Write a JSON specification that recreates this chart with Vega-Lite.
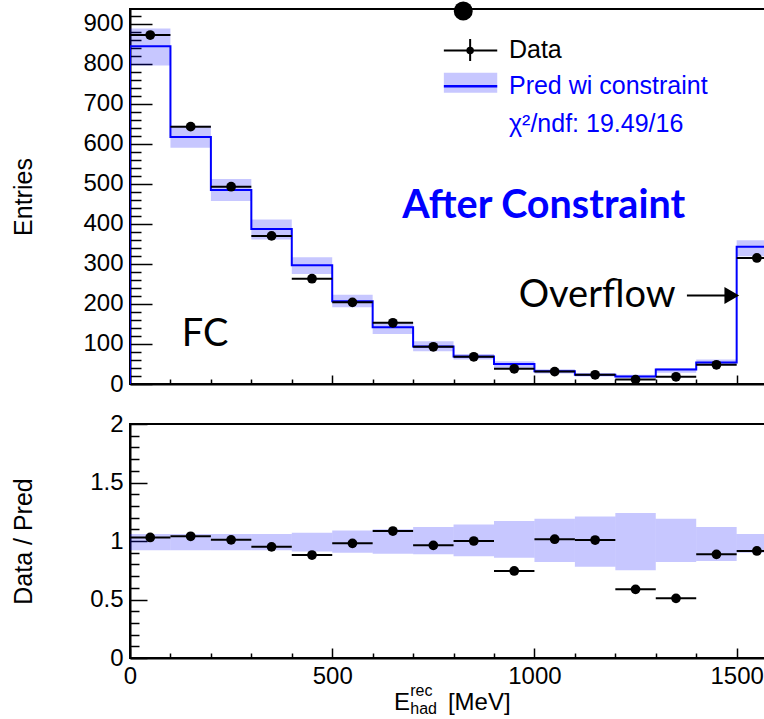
{
  "$schema": "https://vega.github.io/schema/vega-lite/v6.json",
  "padding": {"left": 10, "top": 0, "right": 0, "bottom": 0},
  "background": "white",
  "spacing": 40,
  "bounds": "flush",
  "config": {
    "view": {"stroke": "black", "strokeWidth": 2},
    "font": "Liberation Sans",
    "axis": {
      "domainColor": "black", "domainWidth": 2, "tickColor": "black", "tickWidth": 1.5,
      "labelColor": "black", "titleColor": "black", "labelFont": "Liberation Sans", "titleFont": "Liberation Sans",
      "labelFontSize": 24, "titleFontSize": 25, "titleFontWeight": "normal", "grid": false, "labelOverlap": false, "labelFlush": false, "tickCount": 200
    }
  },
  "datasets": {
    "bins": [
      {"lo": 0, "mid": 50, "hi": 100, "data": 872, "pred": 844, "blo": 796, "bhi": 888, "ratio": 1.03, "rlo": 0.92, "rhi": 1.06},
      {"lo": 100, "mid": 150, "hi": 200, "data": 643, "pred": 617, "blo": 590, "bhi": 645, "ratio": 1.04, "rlo": 0.92, "rhi": 1.06},
      {"lo": 200, "mid": 250, "hi": 300, "data": 493, "pred": 485, "blo": 457, "bhi": 512, "ratio": 1.01, "rlo": 0.92, "rhi": 1.06},
      {"lo": 300, "mid": 350, "hi": 400, "data": 370, "pred": 387, "blo": 361, "bhi": 411, "ratio": 0.95, "rlo": 0.92, "rhi": 1.06},
      {"lo": 400, "mid": 450, "hi": 500, "data": 263, "pred": 297, "blo": 275, "bhi": 317, "ratio": 0.88, "rlo": 0.91, "rhi": 1.07},
      {"lo": 500, "mid": 550, "hi": 600, "data": 204, "pred": 207, "blo": 192, "bhi": 223, "ratio": 0.98, "rlo": 0.9, "rhi": 1.09},
      {"lo": 600, "mid": 650, "hi": 700, "data": 153, "pred": 142, "blo": 125, "bhi": 153, "ratio": 1.085, "rlo": 0.89, "rhi": 1.1},
      {"lo": 700, "mid": 750, "hi": 800, "data": 93, "pred": 94, "blo": 82, "bhi": 107, "ratio": 0.963, "rlo": 0.886, "rhi": 1.12},
      {"lo": 800, "mid": 850, "hi": 900, "data": 68, "pred": 69, "blo": 61, "bhi": 75, "ratio": 1.0, "rlo": 0.87, "rhi": 1.14},
      {"lo": 900, "mid": 950, "hi": 1000, "data": 38, "pred": 50, "blo": 40, "bhi": 57, "ratio": 0.744, "rlo": 0.857, "rhi": 1.17},
      {"lo": 1000, "mid": 1050, "hi": 1100, "data": 31, "pred": 32, "blo": 26, "bhi": 37, "ratio": 1.015, "rlo": 0.82, "rhi": 1.19},
      {"lo": 1100, "mid": 1150, "hi": 1200, "data": 23, "pred": 23, "blo": 19, "bhi": 26, "ratio": 1.008, "rlo": 0.78, "rhi": 1.21},
      {"lo": 1200, "mid": 1250, "hi": 1300, "data": 11, "pred": 19, "blo": 15, "bhi": 23, "ratio": 0.587, "rlo": 0.75, "rhi": 1.24},
      {"lo": 1300, "mid": 1350, "hi": 1400, "data": 18, "pred": 36, "blo": 28, "bhi": 40, "ratio": 0.51, "rlo": 0.82, "rhi": 1.19},
      {"lo": 1400, "mid": 1450, "hi": 1500, "data": 48, "pred": 54, "blo": 47, "bhi": 61, "ratio": 0.886, "rlo": 0.83, "rhi": 1.12},
      {"lo": 1500, "mid": 1550, "hi": 1600, "data": 315, "pred": 343, "blo": 319, "bhi": 359, "ratio": 0.915, "rlo": 0.9, "rhi": 1.06}
    ],
    "step": [
      {"i": 0, "x": 0, "y": 0}, {"i": 1, "x": 0, "y": 844}, {"i": 2, "x": 100, "y": 617}, {"i": 3, "x": 200, "y": 485},
      {"i": 4, "x": 300, "y": 387}, {"i": 5, "x": 400, "y": 297}, {"i": 6, "x": 500, "y": 207}, {"i": 7, "x": 600, "y": 142},
      {"i": 8, "x": 700, "y": 94}, {"i": 9, "x": 800, "y": 69}, {"i": 10, "x": 900, "y": 50}, {"i": 11, "x": 1000, "y": 32},
      {"i": 12, "x": 1100, "y": 23}, {"i": 13, "x": 1200, "y": 19}, {"i": 14, "x": 1300, "y": 36}, {"i": 15, "x": 1400, "y": 54},
      {"i": 16, "x": 1500, "y": 343}, {"i": 17, "x": 1600, "y": 343}
    ],
    "blueText": [
      {"x": 937, "y": 723.5, "t": "Pred wi constraint"},
      {"x": 937, "y": 630, "t": "χ²/ndf: 19.49/16"}
    ],
    "blackText": [
      {"x": 937, "y": 813.5, "t": "Data"}
    ],
    "xtitleBig": [
      {"x": 653, "y": -0.444, "t": "E"},
      {"x": 786, "y": -0.444, "t": "[MeV]"}
    ],
    "xtitleSmall": [
      {"x": 693, "y": -0.325, "t": "rec"},
      {"x": 693, "y": -0.481, "t": "had"}
    ]
  },
  "vconcat": [
    {
      "width": 637,
      "height": 375,
      "layer": [
        {
          "data": {"name": "bins"},
          "mark": {"type": "rect", "fill": "#0000ff", "fillOpacity": 0.22, "clip": true},
          "encoding": {
            "x": {"field": "lo", "type": "quantitative", "scale": {"domain": [0, 1575], "nice": false, "zero": false},
              "axis": {"values": [0,100,200,300,400,500,600,700,800,900,1000,1100,1200,1300,1400,1500], "labels": false, "title": null,
                "tickSize": {"condition": {"test": "datum.value % 500 === 0", "value": -9}, "value": -5}}},
            "x2": {"field": "hi"},
            "y": {"field": "blo", "type": "quantitative", "scale": {"domain": [0, 937], "nice": false, "zero": false},
              "axis": {"values": [0,20,40,60,80,100,120,140,160,180,200,220,240,260,280,300,320,340,360,380,400,420,440,460,480,500,520,540,560,580,600,620,640,660,680,700,720,740,760,780,800,820,840,860,880,900,920],
                "format": "d", "labelExpr": "datum.value % 100 === 0 ? datum.label : ''",
                "tickSize": {"condition": {"test": "datum.value % 100 === 0", "value": -22}, "value": -11},
                "labelPadding": 29, "title": "Entries", "titleX": -107, "titleBaseline": "middle", "titleAngle": 270}},
            "y2": {"field": "bhi"}
          }
        },
        {
          "data": {"name": "step"},
          "mark": {"type": "line", "interpolate": "step-after", "color": "#0000ff", "strokeWidth": 2, "clip": true},
          "encoding": {
            "x": {"field": "x", "type": "quantitative", "scale": {"domain": [0, 1575], "nice": false, "zero": false}},
            "y": {"field": "y", "type": "quantitative", "scale": {"domain": [0, 937], "nice": false, "zero": false}},
            "order": {"field": "i", "type": "quantitative"}
          }
        },
        {
          "data": {"name": "bins"},
          "mark": {"type": "rule", "color": "black", "strokeWidth": 2, "clip": true},
          "encoding": {
            "x": {"field": "lo", "type": "quantitative", "scale": {"domain": [0, 1575], "nice": false, "zero": false}},
            "x2": {"field": "hi"},
            "y": {"field": "data", "type": "quantitative", "scale": {"domain": [0, 937], "nice": false, "zero": false}}
          }
        },
        {
          "data": {"name": "bins"},
          "transform": [{"filter": "datum.mid < 1575"}],
          "mark": {"type": "point", "filled": true, "color": "black", "opacity": 1, "size": 95},
          "encoding": {
            "x": {"field": "mid", "type": "quantitative", "scale": {"domain": [0, 1575], "nice": false, "zero": false}},
            "y": {"field": "data", "type": "quantitative", "scale": {"domain": [0, 937], "nice": false, "zero": false}}
          }
        },
        {
          "data": {"values": [{"x1": 776, "x2": 908, "y1": 727.5, "y2": 777.5}]},
          "mark": {"type": "rect", "fill": "#0000ff", "fillOpacity": 0.22},
          "encoding": {
            "x": {"field": "x1", "type": "quantitative", "scale": {"domain": [0, 1575], "nice": false, "zero": false}},
            "x2": {"field": "x2"},
            "y": {"field": "y1", "type": "quantitative", "scale": {"domain": [0, 937], "nice": false, "zero": false}},
            "y2": {"field": "y2"}
          }
        },
        {
          "data": {"values": [{"x1": 776, "x2": 908, "y1": 744, "y2": 744}]},
          "mark": {"type": "rule", "strokeWidth": 2.5, "color": "#0000ff"},
          "encoding": {
            "x": {"field": "x1", "type": "quantitative", "scale": {"domain": [0, 1575], "nice": false, "zero": false}},
            "x2": {"field": "x2"},
            "y": {"field": "y1", "type": "quantitative", "scale": {"domain": [0, 937], "nice": false, "zero": false}},
            "y2": {"field": "y2"}
          }
        },
        {
          "data": {"values": [
            {"x1": 776, "x2": 908, "y1": 833.5, "y2": 833.5},
            {"x1": 841, "x2": 841, "y1": 807, "y2": 862},
            {"x1": 1377, "x2": 1482, "y1": 221, "y2": 221}
          ]},
          "mark": {"type": "rule", "strokeWidth": 2, "color": "black"},
          "encoding": {
            "x": {"field": "x1", "type": "quantitative", "scale": {"domain": [0, 1575], "nice": false, "zero": false}},
            "x2": {"field": "x2"},
            "y": {"field": "y1", "type": "quantitative", "scale": {"domain": [0, 937], "nice": false, "zero": false}},
            "y2": {"field": "y2"}
          }
        },
        {
          "data": {"values": [
            {"x": 841, "y": 833.5, "s": 50},
            {"x": 824, "y": 932, "s": 346}
          ]},
          "mark": {"type": "point", "filled": true, "color": "black", "opacity": 1, "clip": false, "shape": "circle"},
          "encoding": {
            "x": {"field": "x", "type": "quantitative", "scale": {"domain": [0, 1575], "nice": false, "zero": false}},
            "y": {"field": "y", "type": "quantitative", "scale": {"domain": [0, 937], "nice": false, "zero": false}},
            "size": {"field": "s", "type": "quantitative", "scale": {"type": "identity"}, "legend": null}
          }
        },
        {
          "data": {"values": [{"x": 1488, "y": 221}]},
          "mark": {"type": "point", "filled": true, "color": "black", "opacity": 1, "shape": "triangle-right", "size": 289},
          "encoding": {
            "x": {"field": "x", "type": "quantitative", "scale": {"domain": [0, 1575], "nice": false, "zero": false}},
            "y": {"field": "y", "type": "quantitative", "scale": {"domain": [0, 937], "nice": false, "zero": false}}
          }
        },
        {
          "data": {"name": "blackText"},
          "mark": {"type": "text", "align": "left", "baseline": "alphabetic", "font": "Liberation Sans", "fontSize": 25, "color": "black"},
          "encoding": {
            "x": {"field": "x", "type": "quantitative", "scale": {"domain": [0, 1575], "nice": false, "zero": false}},
            "y": {"field": "y", "type": "quantitative", "scale": {"domain": [0, 937], "nice": false, "zero": false}},
            "text": {"field": "t"}
          }
        },
        {
          "data": {"name": "blueText"},
          "mark": {"type": "text", "align": "left", "baseline": "alphabetic", "font": "Liberation Sans", "fontSize": 25, "color": "#0000ff"},
          "encoding": {
            "x": {"field": "x", "type": "quantitative", "scale": {"domain": [0, 1575], "nice": false, "zero": false}},
            "y": {"field": "y", "type": "quantitative", "scale": {"domain": [0, 937], "nice": false, "zero": false}},
            "text": {"field": "t"}
          }
        },
        {
          "data": {"values": [{"x": 961, "y": 192, "t": "Overflow"}]},
          "mark": {"type": "text", "align": "left", "baseline": "alphabetic", "font": "Lato", "fontSize": 38, "color": "black"},
          "encoding": {
            "x": {"field": "x", "type": "quantitative", "scale": {"domain": [0, 1575], "nice": false, "zero": false}},
            "y": {"field": "y", "type": "quantitative", "scale": {"domain": [0, 937], "nice": false, "zero": false}},
            "text": {"field": "t"}
          }
        },
        {
          "data": {"values": [{"x": 128, "y": 96, "t": "FC"}]},
          "mark": {"type": "text", "align": "left", "baseline": "alphabetic", "font": "Lato", "fontSize": 38, "color": "black"},
          "encoding": {
            "x": {"field": "x", "type": "quantitative", "scale": {"domain": [0, 1575], "nice": false, "zero": false}},
            "y": {"field": "y", "type": "quantitative", "scale": {"domain": [0, 937], "nice": false, "zero": false}},
            "text": {"field": "t"}
          }
        },
        {
          "data": {"values": [{"x": 673, "y": 415, "t": "After Constraint"}]},
          "mark": {"type": "text", "align": "left", "baseline": "alphabetic", "font": "Lato", "fontSize": 39.5, "fontWeight": "bold", "color": "#0000ff"},
          "encoding": {
            "x": {"field": "x", "type": "quantitative", "scale": {"domain": [0, 1575], "nice": false, "zero": false}},
            "y": {"field": "y", "type": "quantitative", "scale": {"domain": [0, 937], "nice": false, "zero": false}},
            "text": {"field": "t"}
          }
        }
      ]
    },
    {
      "width": 637,
      "height": 234,
      "layer": [
        {
          "data": {"name": "bins"},
          "mark": {"type": "rect", "fill": "#0000ff", "fillOpacity": 0.22, "clip": true},
          "encoding": {
            "x": {"field": "lo", "type": "quantitative", "scale": {"domain": [0, 1575], "nice": false, "zero": false},
              "axis": {"values": [0,100,200,300,400,500,600,700,800,900,1000,1100,1200,1300,1400,1500], "title": null, "format": "d",
                "labelExpr": "datum.value % 500 === 0 ? datum.label : ''",
                "tickSize": {"condition": {"test": "datum.value % 500 === 0", "value": -10}, "value": -5}, "labelPadding": 16}},
            "x2": {"field": "hi"},
            "y": {"field": "rlo", "type": "quantitative", "scale": {"domain": [0, 2], "nice": false, "zero": false},
              "axis": {"values": [0,0.1,0.2,0.3,0.4,0.5,0.6,0.7,0.8,0.9,1,1.1,1.2,1.3,1.4,1.5,1.6,1.7,1.8,1.9,2],
                "format": "~g", "labelExpr": "abs(round(datum.value*2) - datum.value*2) < 0.001 ? datum.label : ''",
                "tickSize": {"condition": {"test": "abs(round(datum.value*2) - datum.value*2) < 0.001", "value": -17}, "value": -9},
                "labelPadding": 24, "title": "Data / Pred", "titleX": -107, "titleBaseline": "middle", "titleAngle": 270}},
            "y2": {"field": "rhi"}
          }
        },
        {
          "mark": {"type": "rule", "color": "black", "strokeWidth": 1.5, "strokeDash": [5, 3]},
          "encoding": {"y": {"datum": 1, "type": "quantitative", "scale": {"domain": [0, 2], "nice": false, "zero": false}}}
        },
        {
          "data": {"name": "bins"},
          "mark": {"type": "rule", "color": "black", "strokeWidth": 2, "clip": true},
          "encoding": {
            "x": {"field": "lo", "type": "quantitative", "scale": {"domain": [0, 1575], "nice": false, "zero": false}},
            "x2": {"field": "hi"},
            "y": {"field": "ratio", "type": "quantitative", "scale": {"domain": [0, 2], "nice": false, "zero": false}}
          }
        },
        {
          "data": {"name": "bins"},
          "transform": [{"filter": "datum.mid < 1575"}],
          "mark": {"type": "point", "filled": true, "color": "black", "opacity": 1, "size": 95},
          "encoding": {
            "x": {"field": "mid", "type": "quantitative", "scale": {"domain": [0, 1575], "nice": false, "zero": false}},
            "y": {"field": "ratio", "type": "quantitative", "scale": {"domain": [0, 2], "nice": false, "zero": false}}
          }
        },
        {
          "data": {"name": "xtitleBig"},
          "mark": {"type": "text", "align": "left", "baseline": "alphabetic", "font": "Liberation Sans", "fontSize": 24, "color": "black", "clip": false},
          "encoding": {
            "x": {"field": "x", "type": "quantitative", "scale": {"domain": [0, 1575], "nice": false, "zero": false}},
            "y": {"field": "y", "type": "quantitative", "scale": {"domain": [0, 2], "nice": false, "zero": false}},
            "text": {"field": "t"}
          }
        },
        {
          "data": {"name": "xtitleSmall"},
          "mark": {"type": "text", "align": "left", "baseline": "alphabetic", "font": "Liberation Sans", "fontSize": 16, "color": "black", "clip": false},
          "encoding": {
            "x": {"field": "x", "type": "quantitative", "scale": {"domain": [0, 1575], "nice": false, "zero": false}},
            "y": {"field": "y", "type": "quantitative", "scale": {"domain": [0, 2], "nice": false, "zero": false}},
            "text": {"field": "t"}
          }
        }
      ]
    }
  ]
}
